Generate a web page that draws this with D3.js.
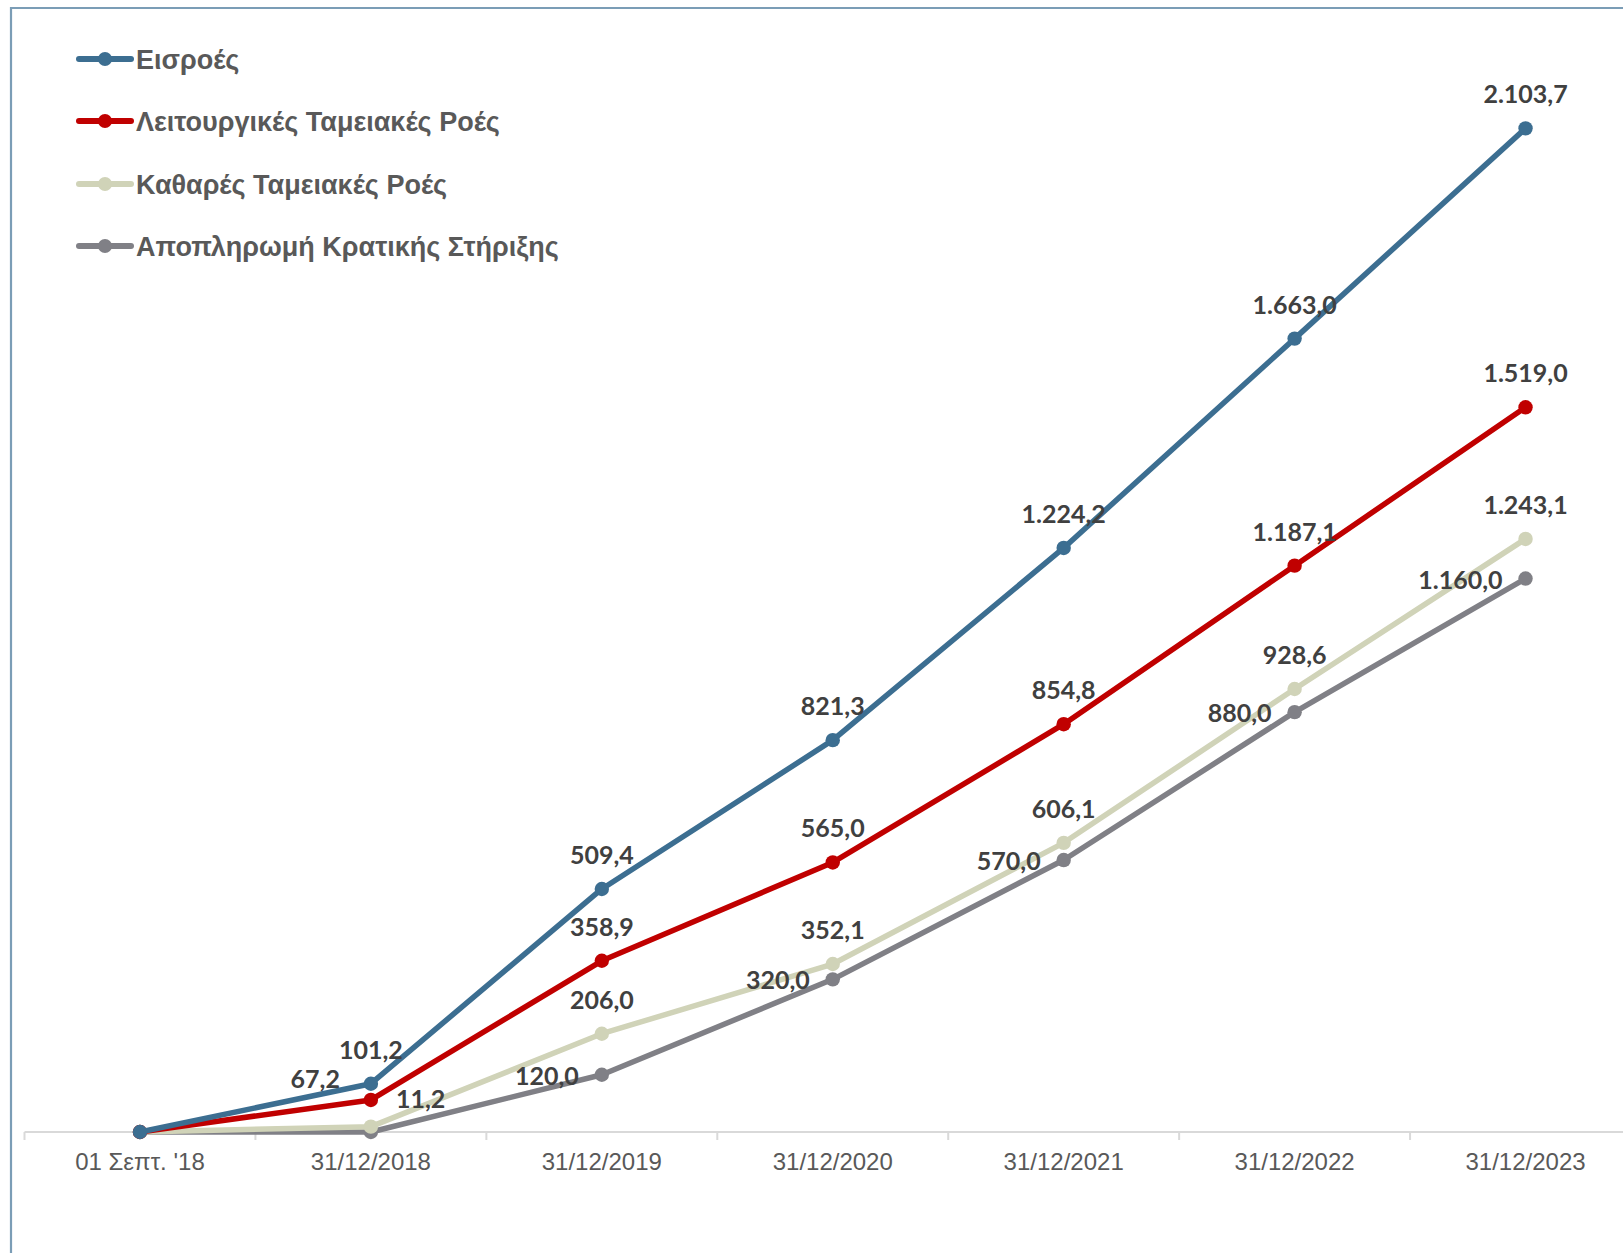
<!DOCTYPE html>
<html>
<head>
<meta charset="utf-8">
<script src="https://cdn.jsdelivr.net/npm/d3@7/dist/d3.min.js"></script>
<style>
  html, body { margin: 0; padding: 0; background: #fff; }
  svg { display: block; }
</style>
</head>
<body>
<svg id="chart" width="1623" height="1253"></svg>
<script>
// Categories along the horizontal axis
const categories = ["01 Σεπτ. '18", "31/12/2018", "31/12/2019", "31/12/2020", "31/12/2021", "31/12/2022", "31/12/2023"];

// Cumulative amounts per series
const inflows      = [0, 101.2, 509.4, 821.3, 1224.2, 1663.0, 2103.7];
const operatingCF  = [0, 67.2, 358.9, 565.0, 854.8, 1187.1, 1519.0];
const netCF        = [0, 11.2, 206.0, 352.1, 606.1, 928.6, 1243.1];
const stateRepay   = [0, 0, 120.0, 320.0, 570.0, 880.0, 1160.0];

const seriesNames = ["Εισροές", "Λειτουργικές Ταμειακές Ροές", "Καθαρές Ταμειακές Ροές", "Αποπληρωμή Κρατικής Στήριξης"];

// Label placement per series: "above", "left", "aboveLeft", "aboveRight"
const labelSides = [
  ["none", "above", "above", "above", "above", "above", "above"],
  ["none", "aboveLeft", "above", "above", "above", "above", "above"],
  ["none", "aboveRight", "above", "above", "above", "above", "above"],
  ["none", "none", "left", "left", "left", "left", "left"]
];

const colors = ["#3c6e91", "#c00000", "#d0d3b8", "#808086"];

const series = seriesNames.map((name, i) => ({
  name,
  values: [inflows, operatingCF, netCF, stateRepay][i],
  sides: labelSides[i],
  color: colors[i]
}));

const svg = d3.select("#chart");
const W = 1623, H = 1253;

// Outer frame (open towards right and bottom edges)
svg.append("path")
  .attr("d", `M11,${H + 5} L11,8 L${W + 5},8`)
  .attr("fill", "none")
  .attr("stroke", "#7b9db6")
  .attr("stroke-width", 2.2);

const x = d3.scaleBand().domain(categories).range([24.5, 1641]).paddingInner(0).paddingOuter(0);
const y = d3.scaleLinear().domain([0, 2200]).range([1132, 82.4]);
const cx = c => x(c) + x.bandwidth() / 2;

// Horizontal category axis with ticks between categories
const axisG = svg.append("g").attr("transform", `translate(0,${y(0)})`);
axisG.append("line")
  .attr("x1", 24.5).attr("x2", W)
  .attr("stroke", "#d9d9d9").attr("stroke-width", 2);
axisG.selectAll("line.tick")
  .data(categories)
  .join("line")
  .attr("class", "tick")
  .attr("x1", d => x(d)).attr("x2", d => x(d))
  .attr("y1", 0).attr("y2", 8)
  .attr("stroke", "#d9d9d9").attr("stroke-width", 2);
axisG.selectAll("text")
  .data(categories)
  .join("text")
  .attr("x", d => cx(d))
  .attr("y", 38)
  .attr("text-anchor", "middle")
  .attr("font-family", "'Liberation Sans', Arial, sans-serif")
  .attr("font-size", 24)
  .attr("fill", "#595959")
  .text(d => d);

const line = d3.line()
  .x((d, i) => cx(categories[i]))
  .y(d => y(d));

// Lines drawn back to front so the first series ends on top
const drawOrder = [3, 2, 1, 0];
drawOrder.forEach(si => {
  const s = series[si];
  const g = svg.append("g");
  g.append("path")
    .attr("d", line(s.values))
    .attr("fill", "none")
    .attr("stroke", s.color)
    .attr("stroke-width", 5.5)
    .attr("stroke-linejoin", "round")
    .attr("stroke-linecap", "round");
  g.selectAll("circle")
    .data(s.values)
    .join("circle")
    .attr("cx", (d, i) => cx(categories[i]))
    .attr("cy", d => y(d))
    .attr("r", 7.2)
    .attr("fill", s.color);
});

// Value labels
const fmt = v => {
  const parts = v.toFixed(1).split(".");
  const intPart = parts[0].replace(/\B(?=(\d{3})+(?!\d))/g, ".");
  return intPart + "," + parts[1];
};

const labelG = svg.append("g")
  .attr("font-family", "Lato, 'Open Sans', sans-serif")
  .attr("font-weight", "bold")
  .attr("font-size", 25)
  .attr("fill", "#404040");

series.forEach(s => {
  s.values.forEach((v, i) => {
    const side = s.sides[i];
    if (side === "none") return;
    const px = cx(categories[i]), py = y(v);
    let tx = px, ty = py, anchor = "middle";
    if (side === "above") { ty = py - 25; }
    else if (side === "left") { tx = px - 23; ty = py + 10; anchor = "end"; }
    else if (side === "aboveLeft") { tx = px - 31; ty = py - 12; anchor = "end"; }
    else if (side === "aboveRight") { tx = px + 25; ty = py - 19; anchor = "start"; }
    labelG.append("text")
      .attr("x", tx).attr("y", ty)
      .attr("text-anchor", anchor)
      .text(fmt(v));
  });
});

// Legend
const legendYs = [59, 121, 184, 246];
const legend = svg.append("g");
series.forEach((s, i) => {
  const g = legend.append("g").attr("transform", `translate(0,${legendYs[i]})`);
  g.append("line")
    .attr("x1", 79).attr("x2", 131)
    .attr("stroke", s.color).attr("stroke-width", 6)
    .attr("stroke-linecap", "round");
  g.append("circle").attr("cx", 105).attr("cy", 0).attr("r", 7).attr("fill", s.color);
  g.append("text")
    .attr("x", 136).attr("y", 9.5)
    .attr("font-family", "'Liberation Sans', Arial, sans-serif")
    .attr("font-weight", "bold")
    .attr("font-size", 27)
    .attr("fill", "#595959")
    .text(s.name);
});
</script>
</body>
</html>
